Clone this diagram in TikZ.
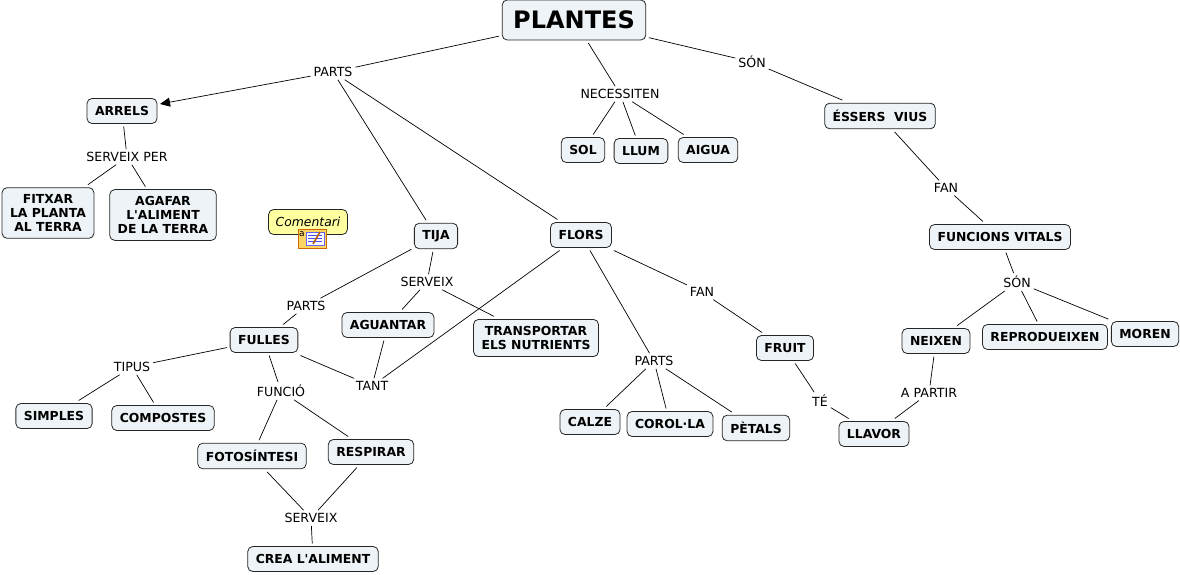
\documentclass[tikz,border=0pt]{standalone}
\usepackage{fontspec}
\setmainfont{DejaVu Sans}
\usetikzlibrary{arrows.meta, positioning}

\definecolor{conceptfill}{RGB}{237,243,246}
\definecolor{notefill}{RGB}{255,255,160}
\newcommand{\apos}{\textquotesingle}

\tikzset{
	concept/.style={draw=black!85, fill=conceptfill, rounded corners=5pt, line width=0.8pt,
		font=\fontsize{12.4}{13.8}\selectfont\bfseries, align=center,
		inner xsep=8pt, inner ysep=7pt, minimum height=25pt, outer sep=3pt},
	phrase/.style={font=\fontsize{12.6}{14}\selectfont, inner sep=2pt, outer sep=1pt},
	link/.style={line width=0.7pt},
}

\begin{document}
\begin{tikzpicture}[x=1pt, y=-1pt]
	\useasboundingbox (0,0) rectangle (1180,575);

	% concepts
	\node[concept, font=\fontsize{24}{26}\selectfont\bfseries, minimum height=40pt, inner xsep=11pt] (plantes) at (574,20) {PLANTES};
	\node[concept] (arrels) at (122,111) {ARRELS};
	\node[concept] (fitxar) at (48,213) {FITXAR\\LA PLANTA\\AL TERRA};
	\node[concept] (agafar) at (163,215) {AGAFAR\\L\apos ALIMENT\\DE LA TERRA};
	\node[concept] (tija) at (436,236) {TIJA};
	\node[concept] (flors) at (581,235) {FLORS};
	\node[concept] (sol) at (583,150) {SOL};
	\node[concept] (llum) at (641,151) {LLUM};
	\node[concept] (aigua) at (708,150) {AIGUA};
	\node[concept] (essers) at (880,116) {ÉSSERS\ \ VIUS};
	\node[concept] (funcions) at (1000,237) {FUNCIONS VITALS};
	\node[concept] (neixen) at (936,341) {NEIXEN};
	\node[concept] (reprod) at (1045,337) {REPRODUEIXEN};
	\node[concept] (moren) at (1145,334) {MOREN};
	\node[concept] (fulles) at (264,340) {FULLES};
	\node[concept] (aguantar) at (388,325) {AGUANTAR};
	\node[concept] (transp) at (536,338) {TRANSPORTAR\\ELS NUTRIENTS};
	\node[concept] (fruit) at (785,348) {FRUIT};
	\node[concept] (simples) at (54,416) {SIMPLES};
	\node[concept] (compostes) at (163,418) {COMPOSTES};
	\node[concept] (fotos) at (252,456) {FOTOSÍNTESI};
	\node[concept] (respirar) at (371,452) {RESPIRAR};
	\node[concept] (crea) at (313,559) {CREA L\apos ALIMENT};
	\node[concept] (calze) at (590,422) {CALZE};
	\node[concept] (corola) at (670,424) {COROL·LA};
	\node[concept] (petals) at (756,428) {PÈTALS};
	\node[concept] (llavor) at (874,434) {LLAVOR};

	% linking phrases
	\node[phrase] (partsA) at (333,72) {PARTS};
	\node[phrase] (necess) at (620,94) {NECESSITEN};
	\node[phrase] (sonA) at (752,62) {SÓN};
	\node[phrase] (serveixPer) at (127,157) {SERVEIX PER};
	\node[phrase] (fanA) at (946,188) {FAN};
	\node[phrase] (sonB) at (1017,282) {SÓN};
	\node[phrase] (partsB) at (306,306) {PARTS};
	\node[phrase] (serveixA) at (427,282) {SERVEIX};
	\node[phrase] (tant) at (372,386) {TANT};
	\node[phrase] (fanB) at (702,292) {FAN};
	\node[phrase] (tipus) at (132,367) {TIPUS};
	\node[phrase] (funcio) at (281,391) {FUNCIÓ};
	\node[phrase] (serveixB) at (311,518) {SERVEIX};
	\node[phrase] (partsC) at (654,361) {PARTS};
	\node[phrase] (te) at (820,401) {TÉ};
	\node[phrase] (apartir) at (929,393) {A PARTIR};

	% comment note
	\node[draw=black!85, fill=notefill, rounded corners=5pt, line width=0.8pt,
		font=\fontsize{12.4}{14}\selectfont\itshape, inner xsep=7pt, minimum height=25pt] (coment) at (308,222) {Comentari};
	\draw[draw=orange!80!black, fill=yellow!50!orange!60] (298,229) rectangle (326,248);
	\node[font=\fontsize{9}{9}\selectfont, inner sep=0pt] (iconA) at (302,234) {a};
	\draw[fill=white, draw=blue!60] (306,232) rectangle (324,245);
	\foreach \yy in {235,238,241}
		\draw[blue!70, line width=0.8pt] (308,\yy) -- (322,\yy);
	\draw[orange!70!black, line width=1.5pt] (313,244) -- (320,232);

	\draw[link]
		(plantes) edge (partsA)
		(partsA) edge[-{Triangle[length=10pt,width=9pt]}] (arrels)
		(partsA) edge (tija)
		(partsA) edge (flors)
		(plantes) edge (necess)
		(necess) edge (sol)
		(necess) edge (llum)
		(necess) edge (aigua)
		(plantes) edge (sonA)
		(sonA) edge (essers)
		(arrels) edge (serveixPer)
		(serveixPer) edge (fitxar)
		(serveixPer) edge (agafar)
		(essers) edge (fanA)
		(fanA) edge (funcions)
		(funcions) edge (sonB)
		(sonB) edge (neixen)
		(sonB) edge (reprod)
		(sonB) edge (moren)
		(tija) edge (partsB)
		(partsB) edge (fulles)
		(tija) edge (serveixA)
		(serveixA) edge (aguantar)
		(serveixA) edge (transp)
		(fulles) edge (tant)
		(aguantar) edge (tant)
		(flors) edge (tant)
		(flors) edge (fanB)
		(fanB) edge (fruit)
		(fruit) edge (te)
		(te) edge (llavor)
		(neixen) edge (apartir)
		(apartir) edge (llavor)
		(flors) edge (partsC)
		(partsC) edge (calze)
		(partsC) edge (corola)
		(partsC) edge (petals)
		(fulles) edge (tipus)
		(tipus) edge (simples)
		(tipus) edge (compostes)
		(fulles) edge (funcio)
		(funcio) edge (fotos)
		(funcio) edge (respirar)
		(fotos) edge (serveixB)
		(respirar) edge (serveixB)
		(serveixB) edge (crea)
		;
\end{tikzpicture}
\end{document}
